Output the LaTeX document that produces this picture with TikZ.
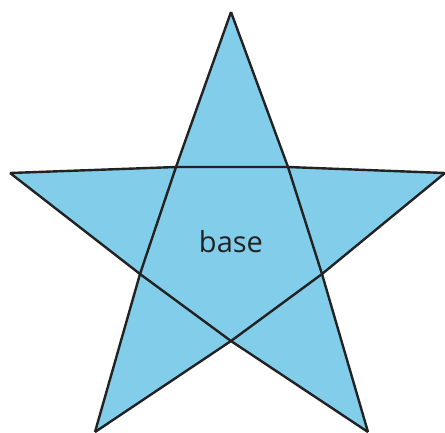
\documentclass[tikz,border=0pt]{standalone}
\usepackage{fontspec}
\setmainfont{Open Sans}
\usepackage{xcolor}
\definecolor{starblue}{HTML}{82CDEA}
\definecolor{edgegray}{HTML}{222222}

\begin{document}
\begin{tikzpicture}[x=1pt, y=-1pt,
    edge/.style={draw=edgegray, line width=2.4pt, line join=miter}]
    \useasboundingbox (0,0) rectangle (445,432);
    % outer points
    \coordinate (top) at (231,12);
    \coordinate (left) at (10,173);
    \coordinate (right) at (445,173);
    \coordinate (botl) at (95,432);
    \coordinate (botr) at (368,432);
    % inner points
    \coordinate (itl) at (176,167);
    \coordinate (itr) at (288,167);
    \coordinate (il) at (140,274);
    \coordinate (ir) at (322,274);
    \coordinate (ib) at (231,341);
    \fill[starblue] (top) -- (itr) -- (right) -- (ir) -- (botr) -- (ib)
        -- (botl) -- (il) -- (left) -- (itl) -- cycle;
    \draw[edge] (left) -- (itl) -- (itr) -- (right);
    \draw[edge] (top) -- (itl) -- (il) -- (botl);
    \draw[edge] (top) -- (itr) -- (ir) -- (botr);
    \draw[edge] (left) -- (il) -- (ib) -- (botr);
    \draw[edge] (right) -- (ir) -- (ib) -- (botl);
    \node[font=\fontsize{29}{32}\selectfont, text=edgegray] (base) at (231,242) {base};
\end{tikzpicture}
\end{document}
